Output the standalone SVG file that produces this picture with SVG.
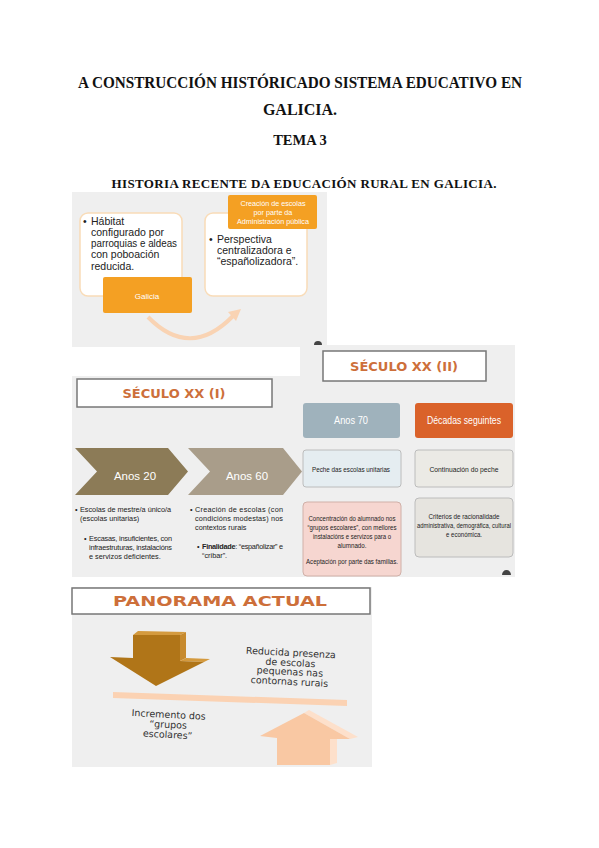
<svg xmlns="http://www.w3.org/2000/svg" width="599" height="848" viewBox="0 0 599 848">
<style>
.title{font-family:"Liberation Serif",serif;font-weight:bold;fill:#111;text-anchor:middle}
.slide{fill:#efefef}
.s{font-family:"Liberation Sans",Arial,sans-serif;fill:#222}
.w{font-family:"Liberation Sans",Arial,sans-serif;fill:#fff;text-anchor:middle}
.c{text-anchor:middle}
.head{font-family:"DejaVu Sans",sans-serif;font-weight:bold;fill:#cd6f3a;text-anchor:middle}
.pan{font-family:"DejaVu Sans",sans-serif;fill:#333;text-anchor:middle;font-size:9.5px}
.tb{fill:#fff;stroke:#777;stroke-width:1.5}
</style>
<rect width="599" height="848" fill="#fff"/>
<g id="titles">
<text class="title" x="300" y="88" font-size="16" textLength="444" lengthAdjust="spacingAndGlyphs">A CONSTRUCCIÓN HISTÓRICADO SISTEMA EDUCATIVO EN</text>
<text class="title" x="300" y="115" font-size="16">GALICIA.</text>
<text class="title" x="300" y="145" font-size="14.5">TEMA 3</text>
<text class="title" x="304" y="188" font-size="13" textLength="385" lengthAdjust="spacing">HISTORIA RECENTE DA EDUCACIÓN RURAL EN GALICIA.</text>
</g>

<!-- Slide 1 -->
<g id="slide1">
<rect class="slide" x="72" y="192" width="255" height="155"/>
<path d="M314,345 a4,4 0 0 1 8,0 z" fill="#444"/>
</g>
<g id="connectors">
<path d="M148,317 Q190,360 233,316" fill="none" stroke="#f9d3b3" stroke-width="4"/>
<path d="M228,312 L241,309 L236,321 z" fill="#f9d3b3"/>
<path d="M351,441 v4" stroke="#aab8c0" stroke-width="1.5"/>
<path d="M348.5,444 h5 l-2.5,3 z" fill="#aab8c0"/>
<path d="M464,441 v4" stroke="#b0a58f" stroke-width="1.5"/>
<path d="M461.5,444 h5 l-2.5,3 z" fill="#b0a58f"/>
<path d="M351,489 v5" stroke="#e07030" stroke-width="2"/>
<path d="M348,493 h6 l-3,3.5 z" fill="#e07030"/>
<path d="M464,488 v5" stroke="#b0a58f" stroke-width="1.5"/>
<path d="M461.5,492 h5 l-2.5,3 z" fill="#b0a58f"/>
</g>
<g id="habitat">
<rect x="80" y="213" width="102" height="83" rx="8" fill="#fff" stroke="#f9dcb8" stroke-width="1.5"/>
<g class="s" font-size="10.5">
<text x="83" y="225">•</text>
<text x="91" y="225">Hábitat</text>
<text x="91" y="236">configurado por</text>
<text x="91" y="247" textLength="86" lengthAdjust="spacingAndGlyphs">parroquias e aldeas</text>
<text x="91" y="258">con poboación</text>
<text x="91" y="270">reducida.</text>
</g>
</g>
<g id="galicia">
<rect x="103" y="277" width="89" height="36" rx="2" fill="#f4a023"/>
<text class="w" x="147" y="299" font-size="8">Galicia</text>
</g>
<g id="perspectiva">
<rect x="205" y="213" width="102" height="83" rx="8" fill="#fff" stroke="#f9dcb8" stroke-width="1.5"/>
<g class="s" font-size="10.5">
<text x="209" y="243">•</text>
<text x="217" y="243">Perspectiva</text>
<text x="217" y="254">centralizadora e</text>
<text x="217" y="265">“españolizadora”.</text>
</g>
</g>
<g id="creacion">
<rect x="228" y="195" width="89" height="34" rx="2" fill="#f4a023"/>
<g class="w" font-size="7.2">
<text x="273" y="206">Creación de escolas</text>
<text x="273" y="215">por parte da</text>
<text x="273" y="224">Administración pública</text>
</g>
</g>

<!-- Slide 2 -->
<g id="slide2">
<path class="slide" d="M72,376 H300 V345 H515 V577 H72 Z"/>
<path d="M502,575 a4.5,5 0 0 1 9,0 z" fill="#444"/>
</g>
<g id="seculo1">
<rect class="tb" x="77" y="379" width="195" height="28"/>
<text class="head" x="174" y="398" font-size="13">SÉCULO XX (I)</text>
</g>
<g id="seculo2">
<rect class="tb" x="323" y="351" width="163" height="30"/>
<text class="head" x="404" y="371" font-size="13">SÉCULO XX (II)</text>
</g>
<g id="anos20">
<polygon points="75,448 168,448 188,471.5 168,495 75,495 97,471.5" fill="#8c7b57"/>
<text class="w" x="135" y="480" font-size="11.5">Anos 20</text>
</g>
<g id="anos60">
<polygon points="188,448 283,448 302,471.5 283,495 188,495 210,471.5" fill="#a99d8a"/>
<text class="w" x="247" y="480" font-size="11.5">Anos 60</text>
</g>
<g id="texto20" class="s" font-size="7.3">
<text x="75" y="512">•</text>
<text x="80" y="512" textLength="91" lengthAdjust="spacing">Escolas de mestre/a único/a</text>
<text x="80" y="521">(escolas unitarias)</text>
<text x="84" y="541">•</text>
<text x="89" y="541" textLength="83" lengthAdjust="spacing">Escasas, insuficientes, con</text>
<text x="89" y="550" textLength="83" lengthAdjust="spacing">infraestruturas, instalacións</text>
<text x="89" y="559">e servizos deficientes.</text>
</g>
<g id="texto60" class="s" font-size="7.3">
<text x="190" y="512">•</text>
<text x="195" y="512" textLength="88" lengthAdjust="spacing">Creación de escolas (con</text>
<text x="195" y="521" textLength="88" lengthAdjust="spacing">condicións modestas) nos</text>
<text x="195" y="530">contextos rurais</text>
<text x="197" y="549">•</text>
<text x="202" y="549" textLength="81" lengthAdjust="spacing"><tspan font-weight="bold">Finalidade</tspan>: “españolizar” e</text>
<text x="202" y="558">“cribar”.</text>
</g>
<g id="anos70">
<rect x="303" y="403" width="97" height="35" rx="3" fill="#9fb2bc"/>
<text class="w" x="351" y="424" font-size="10" textLength="34" lengthAdjust="spacingAndGlyphs">Anos 70</text>
</g>
<g id="decadas">
<rect x="415" y="403" width="98" height="35" rx="3" fill="#da622a"/>
<text class="w" x="464" y="424" font-size="10" textLength="74" lengthAdjust="spacingAndGlyphs">Décadas seguintes</text>
</g>
<g id="peche">
<rect x="303" y="450" width="98" height="37" rx="3" fill="#e5edf1" stroke="#bcbcbc"/>
<text class="s c" x="351" y="472" font-size="7.8" textLength="78" lengthAdjust="spacingAndGlyphs">Peche das escolas unitarias</text>
</g>
<g id="continuacion">
<rect x="415" y="450" width="98" height="37" rx="3" fill="#ebeae5" stroke="#bcbcbc"/>
<text class="s c" x="464" y="472" font-size="7.8" textLength="69" lengthAdjust="spacingAndGlyphs">Continuación do peche</text>
</g>
<g id="concentracion">
<rect x="303" y="502" width="98" height="74" rx="4" fill="#f6d6d0" stroke="#d0b0a8"/>
<g class="s c" font-size="7">
<text x="352" y="521" textLength="87" lengthAdjust="spacingAndGlyphs">Concentración do alumnado nos</text>
<text x="352" y="530" textLength="89" lengthAdjust="spacingAndGlyphs">“grupos escolares”, con mellores</text>
<text x="352" y="539" textLength="78" lengthAdjust="spacingAndGlyphs">instalacións e servizos para o</text>
<text x="352" y="548" textLength="29" lengthAdjust="spacingAndGlyphs">alumnado.</text>
<text x="352" y="564" textLength="92" lengthAdjust="spacingAndGlyphs">Aceptación por parte das familias.</text>
</g>
</g>
<g id="criterios">
<rect x="415" y="498" width="98" height="59" rx="4" fill="#e6e4df" stroke="#bcbcbc"/>
<g class="s c" font-size="7">
<text x="464" y="519" textLength="71" lengthAdjust="spacingAndGlyphs">Criterios de racionalidade</text>
<text x="464" y="528" textLength="94" lengthAdjust="spacingAndGlyphs">administrativa, demográfica, cultural</text>
<text x="464" y="537" textLength="36" lengthAdjust="spacingAndGlyphs">e económica.</text>
</g>
</g>

<!-- Slide 3 -->
<g id="slide3">
<rect class="slide" x="72" y="587" width="300" height="180"/>
</g>
<g id="panorama">
<rect class="tb" x="72" y="588" width="298" height="26"/>
<text class="head" x="220" y="606" font-size="14" textLength="214" lengthAdjust="spacingAndGlyphs">PANORAMA ACTUAL</text>
</g>
<g id="baixa">
<polygon points="133,635 138,631 186,632 180,635" fill="#d49a3e"/>
<polygon points="180,635 186,632 186,658 180,661" fill="#c78a2e"/>
<polygon points="180,661 186,658 210,659 204,662" fill="#d49a3e"/>
<polygon points="133,635 180,635 180,661 204,662 156,686 110,657 133,658" fill="#b07518"/>
</g>
<g id="liña">
<polygon points="113,692 347,700 347,706 113,698" fill="#fbd2b3"/>
</g>
<g id="sube">
<polygon points="304,713 309,710 358,737 350,739" fill="#fde0cb"/>
<polygon points="330,739 337,738 337,763 330,765" fill="#fde0cb"/>
<polygon points="260,736 304,713 350,739 330,739 330,765 277,765 277,738" fill="#f9c8a3"/>
</g>
<g id="reducida" class="pan" transform="rotate(3 290 670)">
<text x="290" y="656">Reducida presenza</text>
<text x="290" y="666">de escolas</text>
<text x="290" y="675">pequenas nas</text>
<text x="290" y="685">contornas rurais</text>
</g>
<g id="incremento" class="pan" transform="rotate(3 170 728)">
<text x="168" y="718">Incremento dos</text>
<text x="168" y="728">“grupos</text>
<text x="168" y="738">escolares”</text>
</g>
</svg>
